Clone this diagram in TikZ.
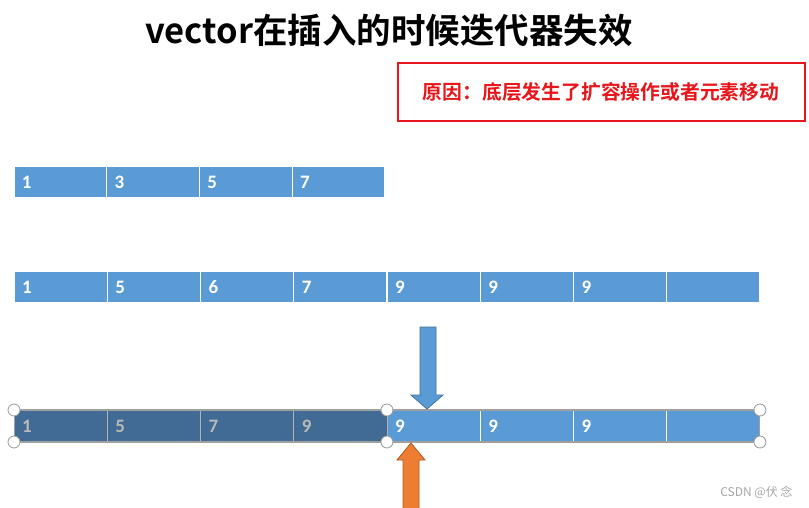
\documentclass[tikz,border=0pt]{standalone}
\usepackage{fontspec}
\setmainfont{Carlito}
\newfontfamily\cjk{Noto Sans CJK SC}[BoldFont={* Bold}]
\begin{document}
\begin{tikzpicture}[x=1pt,y=-1pt,
  cellbox/.style={anchor=north west, fill=cellblue, draw=white, line width=1.2pt,
    minimum width=93.2pt, minimum height=32pt, inner sep=0pt, outer sep=0pt,
    text=white, font=\fontsize{19}{19}\selectfont\bfseries, align=left, text width=77pt},
  handle/.style={circle, fill=white, draw=gray!80, line width=0.8pt, minimum size=12pt, inner sep=0pt},
]
\definecolor{cellblue}{HTML}{5B9BD5}
\definecolor{celldark}{HTML}{416B94}
\definecolor{arrblue}{HTML}{5B9BD5}
\definecolor{arrblueb}{HTML}{41719C}
\definecolor{arrorange}{HTML}{ED7D31}
\definecolor{arrorangeb}{HTML}{AE5A21}
\definecolor{redc}{HTML}{E8161B}
\useasboundingbox (0,0) rectangle (809,507);
\fill[white] (0,0) rectangle (809,507);

% title
\node (title) at (389,30) {\fontsize{34.5}{34.5}\selectfont\cjk\bfseries vector在插入的时候迭代器失效};

% red box
\node (reason) [draw=redc, line width=2pt, minimum width=407pt, minimum height=58pt, inner sep=0pt,
  text=redc] at (601,92) {\fontsize{19.8}{19.8}\selectfont\cjk\bfseries 原因：底层发生了扩容操作或者元素移动};

% row 1
\foreach \i/\t in {0/1,1/3,2/5,3/7} {
  \node[cellbox, minimum width=92.75pt] (a\i) at ({14+92.75*\i},166) {\t};
}

% row 2
\foreach \i/\t in {0/1,1/5,2/6,3/7,4/9,5/9,6/9,7/{}} {
  \node[cellbox, minimum height=31pt] (b\i) at ({14+93.25*\i},271.5) {\t};
}

% row 3
\foreach \i/\t in {4/9,5/9,6/9,7/{}} {
  \node[cellbox] (c\i) at ({14+93.25*\i},410) {\t};
}
\foreach \i/\t in {0/1,1/5,2/7,3/9} {
  \node[cellbox, fill=celldark, draw=gray!60, line width=0.8pt, text=gray!55] (c\i) at ({14+93.25*\i},410) {\t};
}
\draw[gray!75, line width=1.2pt] (c0.north west) -- (c7.north east);
\draw[gray!75, line width=1.2pt] (c0.south west) -- (c7.south east);
\draw[gray!75, line width=1pt] (c0.north west) -- (c0.south west);
\draw[gray!75, line width=1pt] (c7.north east) -- (c7.south east);

\foreach \n/\c in {h1/c0.north west, h2/c0.south west, h3/c3.north east, h4/c3.south east, h5/c7.north east, h6/c7.south east} {
  \node[handle] (\n) at (\c) {};
}

% blue arrow (down)
\coordinate (btip) at (427,409);
\draw[fill=arrblue, draw=arrblueb, line width=0.8pt]
  (420,327) -- (436,327) -- (436,395) -- (443,395) -- (btip) -- (411,395) -- (420,395) -- cycle;

% orange arrow (up)
\coordinate (otip) at (411,443);
\draw[fill=arrorange, draw=arrorangeb, line width=0.8pt]
  (403,508) -- (403,460) -- (397,460) -- (otip) -- (425,460) -- (419,460) -- (419,508);

% watermark
\node[text=gray!70, anchor=east] (wm) at (796,492) {\fontsize{12}{12}\selectfont\cjk CSDN @伏 念};
\end{tikzpicture}
\end{document}
